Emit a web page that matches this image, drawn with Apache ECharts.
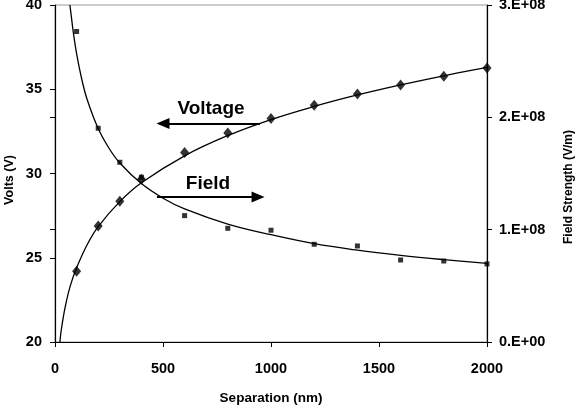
<!DOCTYPE html>
<html>
<head>
<meta charset="utf-8">
<script src="https://cdn.jsdelivr.net/npm/echarts@6/dist/echarts.min.js"></script>
<style>html,body{margin:0;padding:0;background:#fff;}#c{width:580px;height:406px;}</style>
</head>
<body>
<div id="c"></div>
<script>
// Measured data points (separation in nm)
var separation = [100, 200, 300, 400, 600, 800, 1000, 1200, 1400, 1600, 1800, 2000];
var voltage = [24.2, 26.88, 28.35, 29.66, 31.24, 32.40, 33.26, 34.05, 34.72, 35.25, 35.77, 36.26];
var field = [2.764e8, 1.903e8, 1.600e8, 1.467e8, 1.125e8, 1.012e8, 0.995e8, 0.870e8, 0.855e8, 0.730e8, 0.721e8, 0.695e8];

// Trend curves
var voltFitX = [23, 25, 30, 40, 50, 70, 100, 150, 200, 300, 400, 600, 800, 1000, 1200, 1400, 1600, 1800, 2000];
var voltFitY = [20, 20.3, 20.8, 21.6, 22.25, 23.3, 24.4, 25.8, 26.85, 28.33, 29.45, 31.05, 32.25, 33.2, 33.98, 34.66, 35.26, 35.8, 36.3];
var fieldFitX = [69, 75, 85, 100, 125, 150, 200, 250, 300, 400, 500, 600, 800, 1000, 1200, 1400, 1600, 1800, 2000];
var fieldFitY = [3.0e8, 2.907e8, 2.754e8, 2.567e8, 2.33e8, 2.152e8, 1.9e8, 1.725e8, 1.594e8, 1.41e8, 1.28e8, 1.185e8, 1.05e8, 0.955e8, 0.875e8, 0.817e8, 0.771e8, 0.733e8, 0.700e8];

var rightTickLabels = ['0.E+00', '1.E+08', '2.E+08', '3.E+08'];

// Annotation arrows (data coords on the Volts axis)
var voltArrow = {x: [500, 949], y: 32.96};
var fieldArrow = {x: [472, 940], y: 28.6};

function zip(a, b) { return a.map(function (v, i) { return [v, b[i]]; }); }

var FONT = '"Liberation Sans", Arial, sans-serif';
var chart = echarts.init(document.getElementById('c'));
chart.setOption({
  animation: false,
  backgroundColor: '#fff',
  grid: {left: 55, right: 93, top: 5, bottom: 64, show: true, borderColor: '#9a9a9a', borderWidth: 1,
    containLabel: false, outerBoundsMode: 'none'},
  xAxis: {
    type: 'value', min: 0, max: 2000, interval: 500,
    name: 'Separation (nm)', nameLocation: 'middle', nameGap: 49,
    nameTextStyle: {fontFamily: FONT, fontWeight: 'bold', fontSize: 13.5, color: '#000'},
    axisLine: {onZero: false, lineStyle: {color: '#000', width: 1.2}},
    axisTick: {length: 5, lineStyle: {color: '#000'}},
    axisLabel: {margin: 19, fontFamily: FONT, fontWeight: 'bold', fontSize: 14.5, color: '#000',
      formatter: function (v) { return String(v); }},
    splitLine: {show: false}
  },
  yAxis: [{
    type: 'value', min: 20, max: 40, interval: 5, position: 'left',
    axisLine: {show: true, onZero: false, lineStyle: {color: '#000', width: 1.2}},
    axisTick: {show: true, length: 5, lineStyle: {color: '#000'}},
    axisLabel: {margin: 13, fontFamily: FONT, fontWeight: 'bold', fontSize: 14.5, color: '#000',
      formatter: function (v) { return String(v); }},
    splitLine: {show: false}
  }, {
    type: 'value', min: 0, max: 3e8, interval: 1e8, position: 'right', offset: 0,
    axisLine: {show: true, onZero: false, lineStyle: {color: '#000', width: 1.2}},
    axisTick: {show: true, length: 5, lineStyle: {color: '#000'}},
    axisLabel: {margin: 12, fontFamily: FONT, fontWeight: 'bold', fontSize: 14.5, color: '#000',
      formatter: function (v) { return rightTickLabels[Math.round(v / 1e8)]; }},
    splitLine: {show: false}
  }, {
    type: 'value', min: 0, max: 3e8, interval: 1e8, position: 'right', offset: 0,
    axisLine: {show: false},
    axisTick: {show: true, inside: true, length: 5, lineStyle: {color: '#000'}},
    axisLabel: {show: false},
    splitLine: {show: false}
  }],
  series: [{
    type: 'line', yAxisIndex: 0, data: zip(voltFitX, voltFitY), smooth: 0.4, showSymbol: false, symbol: 'none',
    lineStyle: {color: '#000', width: 1.3}, z: 2,
    markLine: {
      silent: true, animation: false, label: {show: false},
      lineStyle: {color: '#000', width: 2.2, type: 'solid'},
      symbolSize: [11, 13],
      data: [
        [{coord: [voltArrow.x[0], voltArrow.y], symbol: 'triangle'}, {coord: [voltArrow.x[1], voltArrow.y], symbol: 'none'}],
        [{coord: [fieldArrow.x[0], fieldArrow.y], symbol: 'none'}, {coord: [fieldArrow.x[1], fieldArrow.y], symbol: 'triangle'}]
      ]
    }
  }, {
    type: 'line', yAxisIndex: 1, data: zip(fieldFitX, fieldFitY), smooth: 0.4, showSymbol: false, symbol: 'none',
    lineStyle: {color: '#000', width: 1.3}, z: 2
  }, {
    type: 'scatter', yAxisIndex: 0, data: zip(separation, voltage), symbol: 'diamond', symbolSize: [9, 11],
    itemStyle: {color: '#000'}, z: 3
  }, {
    type: 'scatter', yAxisIndex: 1, data: zip(separation, field), symbol: 'rect', symbolSize: 5,
    itemStyle: {color: '#000'}, z: 3
  }],
  graphic: [
    {type: 'text', x: 211, y: 109, style: {text: 'Voltage', fontFamily: FONT, fontWeight: 'bold', fontSize: 19, fill: '#000', align: 'center', verticalAlign: 'middle'}},
    {type: 'text', x: 208, y: 184, style: {text: 'Field', fontFamily: FONT, fontWeight: 'bold', fontSize: 19, fill: '#000', align: 'center', verticalAlign: 'middle'}},
    {type: 'text', x: 10, y: 180, rotation: Math.PI / 2, style: {text: 'Volts (V)', fontFamily: FONT, fontWeight: 'bold', fontSize: 12.5, fill: '#000', align: 'center', verticalAlign: 'middle'}},
    {type: 'text', x: 569, y: 187, rotation: Math.PI / 2, style: {text: 'Field Strength (V/m)', fontFamily: FONT, fontWeight: 'bold', fontSize: 12, fill: '#000', align: 'center', verticalAlign: 'middle'}}
  ]
});
</script>
</body>
</html>
